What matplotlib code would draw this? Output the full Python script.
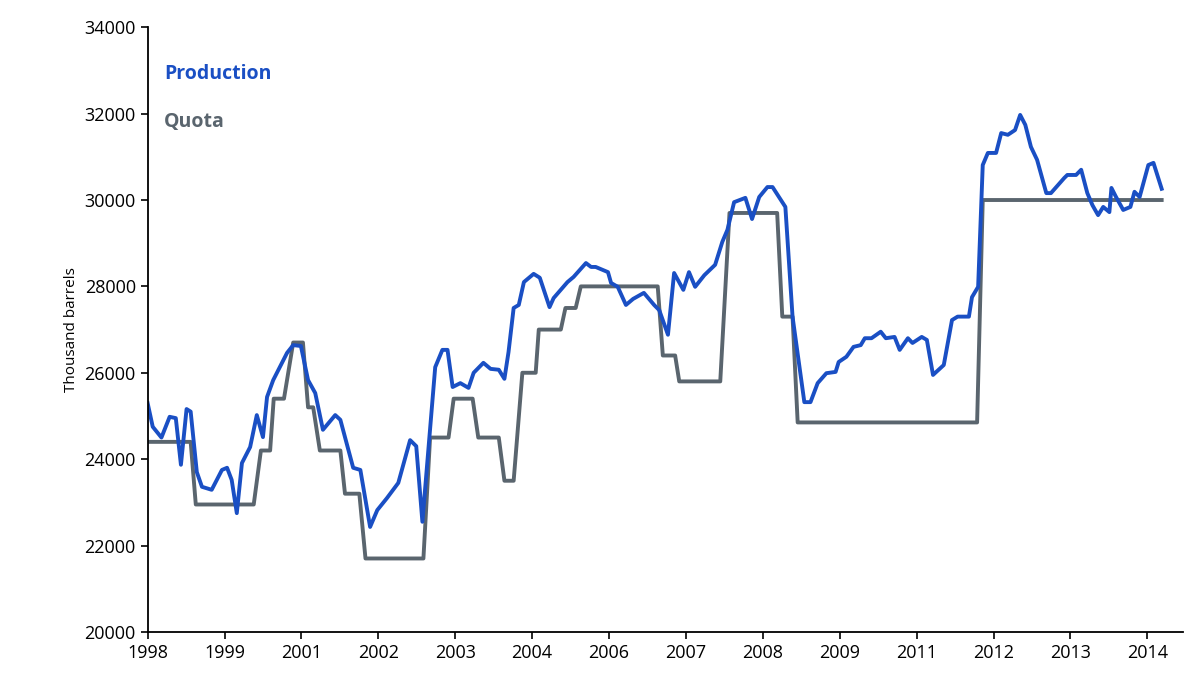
import matplotlib
matplotlib.use("Agg")
import matplotlib.pyplot as plt

# months since Jan 1998
prod_m = [0, 1.0, 2.7, 4.3, 5.5, 6.5, 7.6, 8.4, 9.6, 10.6, 12.5, 14.5, 15.5, 16.4, 17.4, 18.4, 20.0, 21.3, 22.5,
          23.3, 24.5, 27.2, 28.4, 29.9, 31.3, 32.7, 34.2, 36.6, 37.6, 40.1, 41.5, 43.4, 44.8, 46.7, 48.9, 51.2,
          52.4, 53.6, 56.1, 57.5, 58.5, 59.5, 61.0, 62.6, 63.6, 65.5, 66.9, 68.5, 69.6, 70.4, 71.4, 72.4, 73.4,
          75.3, 76.5, 78.4, 79.2, 81.9, 83.1, 85.5, 86.5, 87.4, 89.8, 90.4, 91.7, 93.3, 94.7, 96.8,
          98.8, 99.8, 101.5, 102.7, 104.5, 105.6, 106.8, 108.6, 110.7, 112.1, 113.1, 114.4, 116.6, 117.9,
          119.3, 120.9, 121.9, 124.4, 125.8, 128.1, 129.3, 130.7, 132.4, 134.2, 134.8, 136.3, 137.7, 139.1,
          139.9, 141.2, 143.0, 144.0, 145.7, 146.7, 148.3, 149.2, 151.0, 152.0, 153.2, 155.3, 156.9, 158.0,
          160.2, 160.8, 162.0, 162.9, 163.9, 165.5, 166.5, 167.8, 169.2, 170.2, 171.2, 172.3, 173.5, 175.3,
          176.2, 178.8, 179.4, 181.1, 182.1, 183.3, 184.3, 185.4, 186.4, 187.6, 188.0, 188.9, 190.3, 191.7,
          192.5, 193.5, 195.2, 196.2, 197.8]
prod_v = [25300, 24750, 24500, 24980, 24950, 23870, 25160, 25100, 23700, 23360, 23290, 23750, 23800, 23520,
          22750, 23910, 24280, 25020, 24510, 25440, 25830, 26460, 26640, 26620, 25830, 25530, 24680, 25020,
          24910, 23800, 23750, 22430, 22820, 23100, 23450, 24440, 24300, 22550, 26130, 26530, 26530, 25670,
          25760, 25650, 26000, 26230, 26090, 26070, 25860, 26480, 27500, 27570, 28100, 28290, 28200, 27520,
          27730, 28100, 28220, 28540, 28450, 28450, 28330, 28080, 27990, 27570, 27710, 27850,
          27570, 27450, 26880, 28310, 27920, 28330, 27990, 28260, 28500, 29030, 29310, 29950, 30050, 29560,
          30070, 30300, 30300, 29840, 27300, 25320, 25320, 25760, 25990, 26020, 26250, 26370, 26600, 26640,
          26800, 26800, 26950, 26800, 26830, 26530, 26800, 26690, 26830, 26760, 25950, 26180, 27220, 27300,
          27300, 27750, 27990, 30810, 31090, 31090, 31550, 31510, 31620, 31970, 31740, 31230, 30930, 30160,
          30160, 30510, 30580, 30580, 30700, 30160, 29880, 29650, 29840, 29720, 30280, 30070, 29770, 29840,
          30190, 30070, 30810, 30860, 30260]

quota_m = [0, 8.4, 9.4, 20.7, 22.1, 23.9, 24.6, 26.6, 28.4, 30.3, 31.3, 32.3, 33.6, 37.6, 38.5, 41.3, 42.5,
           53.8, 55.1, 58.7, 59.7, 63.4, 64.5, 68.5, 69.6, 71.4, 73.1, 75.7, 76.3, 80.6, 81.5, 83.5, 84.5,
           99.5, 100.5, 102.9, 103.7, 111.7, 113.5, 122.8, 123.8, 125.8, 126.8, 161.8, 162.9, 197.8]
quota_v = [24400, 24400, 22950, 22950, 24200, 24200, 25400, 25400, 26700, 26700, 25200, 25200, 24200, 24200,
           23200, 23200, 21700, 21700, 24500, 24500, 25400, 25400, 24500, 24500, 23500, 23500, 26000, 26000,
           27000, 27000, 27500, 27500, 28000, 28000, 26400, 26400, 25800, 25800, 29700, 29700, 27300, 27300,
           24850, 24850, 30000, 30000]

tick_labels = ["1998", "1999", "2001", "2002", "2003", "2004", "2006", "2007", "2008", "2009",
               "2011", "2012", "2013", "2014"]

blue = "#1a4fc4"
grey = "#5a656e"

plt.rcParams['font.family'] = ['Open Sans', 'DejaVu Sans']

fig = plt.figure(figsize=(12, 6.99), dpi=100)
ax = fig.add_axes([0.123, 0.096, 0.863, 0.865])
ax.plot(quota_m, quota_v, color=grey, lw=2.8, solid_joinstyle="round")
ax.plot(prod_m, prod_v, color=blue, lw=2.8, solid_joinstyle="round")

ax.set_xlim(0, 202)
ax.set_ylim(20000, 34000)
ax.set_xticks([15 * i for i in range(len(tick_labels))])
ax.set_xticklabels(tick_labels)
ax.set_yticks(range(20000, 34001, 2000))
ax.tick_params(labelsize=13, length=5, width=1.2, colors="black")
for s in ["top", "right"]:
    ax.spines[s].set_visible(False)
for s in ["left", "bottom"]:
    ax.spines[s].set_linewidth(1.3)
ax.set_ylabel("Thousand barrels", fontsize=11)

ax.text(0.016, 0.915, "Production", transform=ax.transAxes, color=blue, fontsize=14, fontweight="bold")
ax.text(0.016, 0.835, "Quota", transform=ax.transAxes, color=grey, fontsize=14, fontweight="bold")

fig.savefig("out.png", dpi=100)
